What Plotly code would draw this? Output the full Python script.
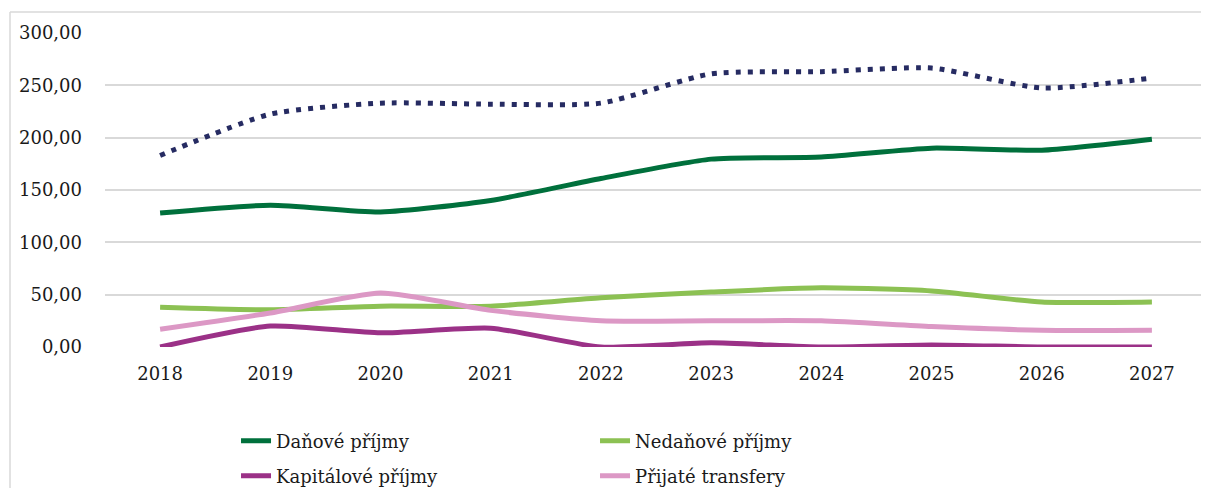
import plotly.graph_objects as go

years = ["2018", "2019", "2020", "2021", "2022", "2023", "2024", "2025", "2026", "2027"]
celkem = [183, 222.5, 233, 232, 233, 261, 263, 266.5, 247.5, 257]
danove = [128, 135.5, 129, 140, 161, 179.5, 181.5, 190, 188, 198.5]
nedanove = [38, 35.5, 39, 39, 47, 52.5, 56.5, 53.5, 43, 43]
kapitalove = [0, 20, 13.5, 18, 0, 4, 0, 2, 0, 0]
transfery = [17, 32.5, 51.5, 35, 25, 25, 25, 19.5, 16, 16]
y_ticks = [0, 50, 100, 150, 200, 250, 300]
y_labels = ["0,00", "50,00", "100,00", "150,00", "200,00", "250,00", "300,00"]

FONT = "DejaVu Serif"
fig = go.Figure()

fig.add_trace(go.Scatter(x=years, y=celkem, mode="lines", name="Příjmy celkem",
                         line=dict(color="#262B62", width=5, dash="5px,7px", shape="spline", smoothing=0.6),
                         showlegend=False))
fig.add_trace(go.Scatter(x=years, y=danove, mode="lines", name="Daňové příjmy",
                         line=dict(color="#00703C", width=5, shape="spline", smoothing=0.6), legend="legend"))
fig.add_trace(go.Scatter(x=years, y=nedanove, mode="lines", name="Nedaňové příjmy",
                         line=dict(color="#8CC153", width=5, shape="spline", smoothing=0.6), legend="legend"))
fig.add_trace(go.Scatter(x=years, y=kapitalove, mode="lines", name="Kapitálové příjmy",
                         line=dict(color="#9B3187", width=5, shape="spline", smoothing=0.6), legend="legend2"))
fig.add_trace(go.Scatter(x=years, y=transfery, mode="lines", name="Přijaté transfery",
                         line=dict(color="#DC98C5", width=5, shape="spline", smoothing=0.6), legend="legend2"))

leg_common = dict(orientation="h", xanchor="left", yanchor="middle", xref="container", yref="container",
                  font=dict(family=FONT, size=18, color="#1a1a1a"),
                  entrywidth=314, entrywidthmode="pixels", bgcolor="rgba(0,0,0,0)",
                  traceorder="normal")

fig.update_layout(
    width=1209, height=488,
    margin=dict(l=97, r=10, t=25, b=149),
    paper_bgcolor="white", plot_bgcolor="white",
    font=dict(family=FONT, size=18, color="#1a1a1a"),
    xaxis=dict(type="category", range=[-0.5, 9.5], showgrid=False, showline=False, zeroline=False,
               tickfont=dict(family=FONT, size=18, color="#1a1a1a"), ticklabelstandoff=14),
    yaxis=dict(range=[0, 300], tickvals=y_ticks, ticktext=y_labels, showgrid=True,
               gridcolor="#D9D9D9", gridwidth=1.5, zeroline=False, showline=False,
               tickfont=dict(family=FONT, size=18, color="#1a1a1a"), ticklabelstandoff=22),
    legend=dict(x=0.1886, y=0.1127, **leg_common),
    legend2=dict(x=0.1886, y=0.041, **leg_common),
    shapes=[
        dict(type="line", xref="paper", yref="paper", x0=-0.0862, x1=1.02, y0=1.0669, y1=1.0669,
             line=dict(color="#D9D9D9", width=1.5)),
        dict(type="line", xref="paper", yref="paper", x0=-0.0862, x1=-0.0862, y0=1.0669, y1=-0.5,
             line=dict(color="#D9D9D9", width=1.5)),
    ],
)

fig.write_html("out.html")
